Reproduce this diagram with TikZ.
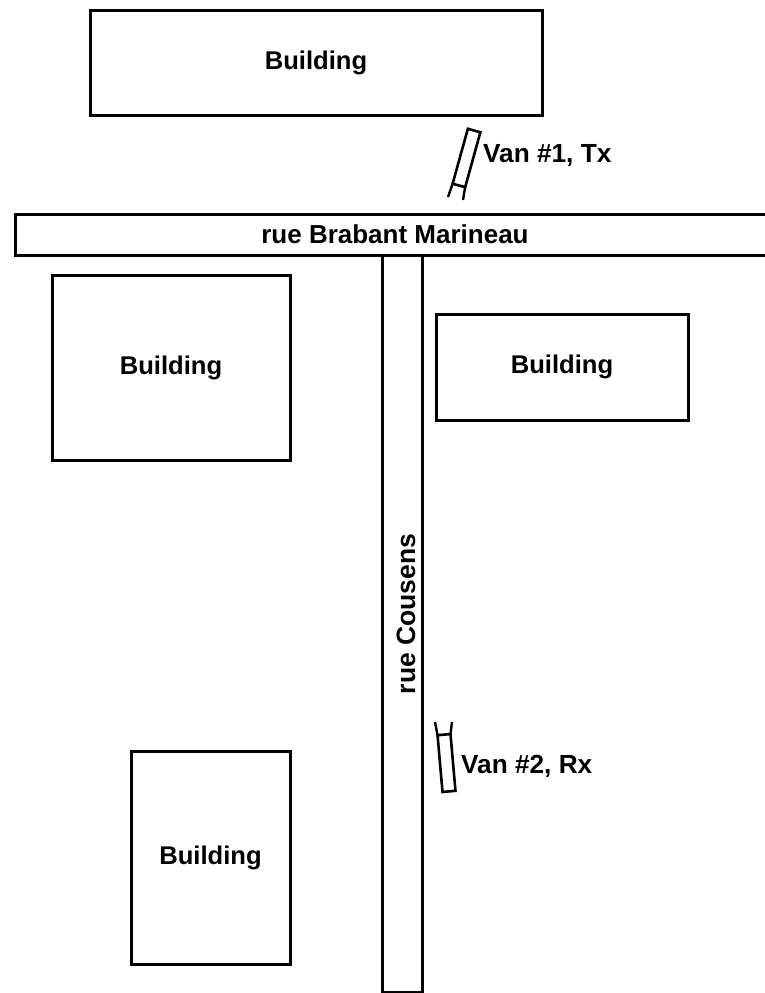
\documentclass[tikz,border=0pt]{standalone}
\usepackage{fontspec}
\setmainfont{Liberation Sans}
\usetikzlibrary{positioning}

\begin{document}
\begin{tikzpicture}[
    x=1pt,y=-1pt,
    bldg/.style = {rectangle,draw=black,fill=white,line width=3pt,inner sep=0pt,outer sep=0pt,
                   align=center,font=\fontsize{25.6}{30}\selectfont\bfseries},
    road/.style = {rectangle,draw=black,fill=white,line width=3pt,inner sep=0pt,outer sep=0pt,
                   align=center,font=\fontsize{26}{30}\selectfont\bfseries},
    van/.style  = {rectangle,draw=black,fill=white,line width=2.6pt,inner sep=0pt,outer sep=0pt,
                   minimum width=13pt,minimum height=57pt},
    vlab/.style = {font=\fontsize{26.2}{30}\selectfont\bfseries,inner sep=0pt,anchor=west},
    leg/.style  = {draw=black,line width=2.4pt},
  ]
  \useasboundingbox (0,0) rectangle (764,993);

  % buildings
  \node[bldg,minimum width=452pt,minimum height=105pt] (bnorth) at (316,62.5)  {Building};
  \node[bldg,minimum width=238pt,minimum height=185pt] (bwest)  at (171,367.5) {Building};
  \node[bldg,minimum width=252pt,minimum height=106pt] (beast)  at (562,367)   {Building};
  \node[bldg,minimum width=159pt,minimum height=213pt] (bsouth) at (210.5,857.5) {Building};

  % streets
  \node[road,minimum width=40pt,minimum height=737pt] (cousens) at (402,623.5) {};
  \node[road,draw=none,fill=none,rotate=90,font=\fontsize{26.5}{30}\selectfont\bfseries]
       (cousenslab) at (406,614) {rue Cousens};
  \node[road,minimum width=760pt,minimum height=41pt] (brabant) at (395,234.5)
       {rue Brabant Marineau};

  % vans
  \node[van,rotate=-15.5] (vanone) at (466.5,158) {};
  \coordinate (vanonel) at (448,197);
  \coordinate (vanoner) at (463,200);
  \draw[leg] (vanone.south west) -- (vanonel);
  \draw[leg] (vanone.south east) -- (vanoner);
  \node[vlab] (labone) at (483,156) {Van \#1, Tx};

  \node[van,rotate=5] (vantwo) at (446.5,763) {};
  \coordinate (vantwol) at (435,722);
  \coordinate (vantwor) at (452,722);
  \draw[leg] (vantwo.north west) -- (vantwol);
  \draw[leg] (vantwo.north east) -- (vantwor);
  \node[vlab] (labtwo) at (461,766) {Van \#2, Rx};

\end{tikzpicture}
\end{document}
